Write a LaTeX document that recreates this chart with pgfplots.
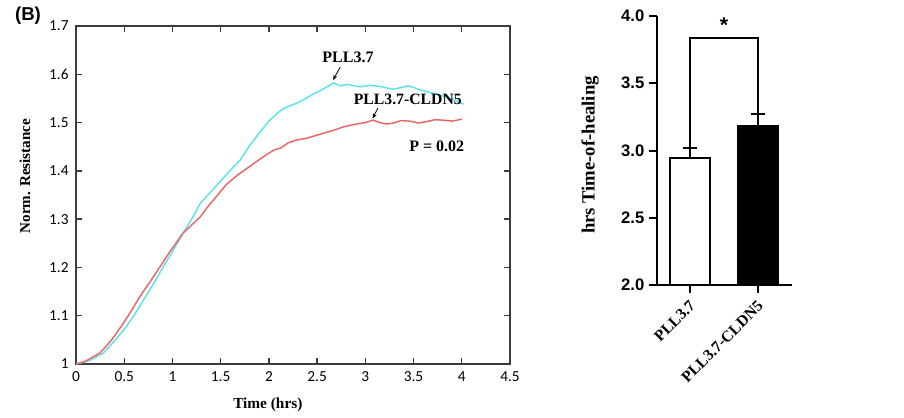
\documentclass[border=0pt]{standalone}
\usepackage{pgfplots}
\pgfplotsset{compat=1.18}
\usepackage{fontspec}
\setmainfont{Liberation Serif}
\newfontfamily\carlito{Carlito}
\newfontfamily\arial{Liberation Sans}
\usetikzlibrary{arrows.meta}
\definecolor{curvecyan}{RGB}{90,228,232}
\definecolor{curvered}{RGB}{234,102,102}
\definecolor{axgray}{RGB}{60,60,60}

\begin{document}
\begin{tikzpicture}
\useasboundingbox (0,0) rectangle (678pt,313.5pt);

\node[font=\arial\bfseries\fontsize{14}{16}\selectfont] at (21pt,302pt) {(B)};

%% left panel: normalised resistance
\begin{axis}[
    at={(57pt,40.5pt)}, anchor=south west,
    scale only axis, width=325.5pt, height=253.5pt,
    xmin=0, xmax=4.5, ymin=1, ymax=1.7,
    xtick={0,0.5,...,4.5},
    ytick={1,1.1,1.2,1.3,1.4,1.5,1.6,1.7},
    tick align=inside, major tick length=4.5pt,
    axis line style={axgray, line width=1pt},
    every tick/.style={axgray, line width=1pt},
    /pgf/number format/assume math mode=true,
    tick label style={font=\carlito\fontsize{11.5}{13}\selectfont},
    xticklabel style={yshift=-2pt},
    yticklabel style={xshift=-2pt},
    xlabel={\textbf{Time (hrs)}},
    ylabel={\textbf{Norm. Resistance}},
    xlabel style={font=\fontsize{11.5}{13}\selectfont, at={(axis description cs:0.442,-0.121)}, anchor=center},
    ylabel style={font=\fontsize{11.3}{13}\selectfont, at={(axis description cs:-0.1175,0.556)}, anchor=center},
    clip=false,
  ]

  %% PLL3.7
  \addplot[curvecyan, line width=1.1pt, mark=none] coordinates {
    (0,1.000) (0.05,1.002) (0.15,1.008) (0.28,1.022) (0.40,1.048)
    (0.51,1.074) (0.60,1.100) (0.68,1.126) (0.80,1.165) (0.90,1.200)
    (0.98,1.226) (1.05,1.250) (1.11,1.271) (1.20,1.300) (1.29,1.333)
    (1.40,1.357) (1.50,1.379) (1.60,1.401) (1.70,1.422) (1.80,1.452)
    (1.91,1.481) (2.00,1.503) (2.08,1.518) (2.15,1.529) (2.32,1.543)
    (2.45,1.558) (2.55,1.568) (2.67,1.582) (2.74,1.576) (2.81,1.579)
    (2.94,1.574) (3.05,1.577) (3.15,1.575) (3.22,1.572) (3.29,1.569)
    (3.38,1.573) (3.45,1.576) (3.55,1.569) (3.64,1.564) (3.74,1.559)
    (3.84,1.553) (3.93,1.546) (4.02,1.538)
  };

  %% PLL3.7-CLDN5
  \addplot[curvered, line width=1.1pt, mark=none] coordinates {
    (0,1.000) (0.10,1.006) (0.25,1.023) (0.37,1.050) (0.49,1.084)
    (0.58,1.112) (0.66,1.139) (0.75,1.165) (0.85,1.195) (0.975,1.233)
    (1.05,1.254) (1.11,1.271) (1.20,1.288) (1.29,1.305) (1.36,1.324)
    (1.44,1.343) (1.56,1.372) (1.68,1.392) (1.80,1.409) (1.92,1.426)
    (2.05,1.443) (2.12,1.447) (2.20,1.458) (2.29,1.464) (2.40,1.468)
    (2.50,1.474) (2.60,1.480) (2.70,1.486) (2.77,1.491) (2.86,1.495)
    (2.94,1.498) (3.00,1.500) (3.08,1.505) (3.15,1.500) (3.22,1.497)
    (3.29,1.499) (3.37,1.504) (3.46,1.503) (3.55,1.499) (3.64,1.502)
    (3.72,1.506) (3.81,1.505) (3.90,1.503) (4.00,1.507)
  };

  \node[font=\bfseries\fontsize{12}{14}\selectfont] at (axis cs:2.82,1.636) {PLL3.7};
  \draw[-{Stealth[length=4pt]}, black, line width=0.6pt]
      (axis cs:2.74,1.615) -- (axis cs:2.665,1.588);
  \node[font=\bfseries\fontsize{11.8}{14}\selectfont] at (axis cs:3.44,1.547) {PLL3.7-CLDN5};
  \draw[-{Stealth[length=4pt]}, black, line width=0.6pt]
      (axis cs:3.13,1.530) -- (axis cs:3.075,1.508);
  \node[font=\bfseries\fontsize{12}{14}\selectfont] at (axis cs:3.74,1.450) {P = 0.02};
\end{axis}

%% right panel: time of healing
\begin{axis}[
    at={(492.75pt,99.75pt)}, anchor=south west,
    scale only axis, width=101.25pt, height=201.75pt,
    xmin=0.515, xmax=2.5, ymin=2, ymax=4,
    axis x line=bottom, axis y line=left,
    axis line style={black, line width=1.5pt, -},
    every tick/.style={black, line width=1.5pt},
    tick align=outside, major tick length=6pt,
    xtick={1,2}, xticklabels={PLL3.7,PLL3.7-CLDN5},
    xticklabel style={font=\bfseries\fontsize{11.8}{13}\selectfont, xshift=-1pt, yshift=-4pt, rotate=45, anchor=north east, inner sep=0.5pt},
    ytick={2,2.5,3,3.5,4},
    /pgf/number format/assume math mode=true,
    yticklabel style={/pgf/number format/fixed, /pgf/number format/fixed zerofill,
                      /pgf/number format/precision=1,
                      font=\arial\bfseries\fontsize{12.5}{14}\selectfont},
    ylabel={\textbf{hrs Time-of-healing}},
    ylabel style={font=\fontsize{14}{16}\selectfont, at={(axis description cs:-0.496,0.483)}, anchor=center},
    clip=false,
  ]
  \addplot[ybar, bar width=30pt, bar shift=0pt, fill=white, draw=black, line width=1.5pt,
           error bars/.cd, y dir=plus, y explicit,
           error bar style={line width=1.5pt, black},
           error mark options={rotate=90, mark size=5.6pt, line width=1.5pt, black}]
    coordinates {(1,2.944) +- (0,0.076)};
  \addplot[ybar, bar width=30pt, bar shift=0pt, fill=black, draw=black, line width=1.5pt,
           error bars/.cd, y dir=plus, y explicit,
           error bar style={line width=1.5pt, black},
           error mark options={rotate=90, mark size=5.6pt, line width=1.5pt, black}]
    coordinates {(2,3.180) +- (0,0.092)};
  %% significance bracket
  \addplot[sharp plot, black, line width=1.5pt, mark=none]
    coordinates {(1,3.02) (1,3.836) (2,3.836) (2,3.272)};
  \node[font=\arial\bfseries\fontsize{16}{18}\selectfont] at (axis cs:1.5,3.93) {*};
\end{axis}
\end{tikzpicture}
\end{document}
